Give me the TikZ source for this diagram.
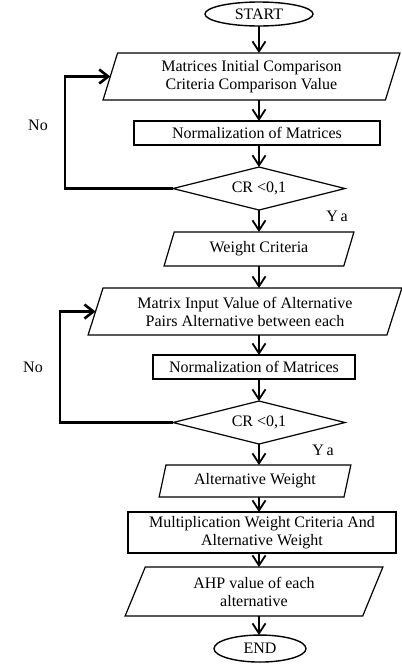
\documentclass[tikz,border=0pt]{standalone}
\usepackage{fontspec}
\setmainfont{Liberation Serif}
\usetikzlibrary{shapes.geometric, arrows.meta, positioning, calc}

\begin{document}
\begin{tikzpicture}[
    x=1pt, y=1pt,
    node distance=22pt,
    every node/.style={font=\fontsize{16}{18}\selectfont},
    terminal/.style={ellipse, draw, line width=1.4pt, inner sep=0pt, outer sep=0pt},
    inout/.style={trapezium, trapezium left angle=74, trapezium right angle=106, trapezium stretches=true, draw, line width=1.2pt, align=center, inner sep=1pt, outer sep=0pt},
    wideslant/.style={trapezium left angle=70, trapezium right angle=110},
    process/.style={rectangle, draw, line width=1.8pt, align=center, inner sep=1pt, outer sep=0pt},
    decision/.style={diamond, aspect=4, draw, line width=1.2pt, inner sep=0pt, outer sep=0pt, minimum width=172pt, minimum height=43pt},
    arrow/.style={-{Straight Barb[length=10pt,width=13pt]}, line width=1.8pt},
    backline/.style={-{Straight Barb[length=9pt,width=14pt]}, line width=2.6pt}
]
\useasboundingbox (0,0) rectangle (402,-670);

\node[terminal, minimum width=108pt, minimum height=24pt] (start) at (259,-14) {START};
\node[inout, below=27pt of start, xshift=-7.5pt, minimum width=297pt, minimum height=47pt] (critin) {Matrices Initial Comparison\\Criteria Comparison Value};
\node[process, below=21pt of critin, xshift=5.5pt, minimum width=246pt, minimum height=24pt] (norm1) {Normalization of Matrices};
\node[decision, below=22pt of norm1, xshift=2pt] (dec1) {CR <0,1};
\node[inout, wideslant, below=22pt of dec1, minimum width=190pt, minimum height=34pt] (wcrit) {Weight Criteria};
\node[inout, wideslant, below=22pt of wcrit, xshift=-14pt, minimum width=314pt, minimum height=47pt] (altin) {Matrix Input Value of Alternative\\Pairs Alternative between each};
\node[process, below=20pt of altin, xshift=9pt, minimum width=202pt, minimum height=24pt] (norm2) {Normalization of Matrices};
\node[decision, below=22pt of norm2, xshift=5pt] (dec2) {CR <0,1};
\node[inout, below=21pt of dec2, xshift=-4pt, minimum width=192pt, minimum height=32pt] (altw) {Alternative Weight};
\node[process, below=15pt of altw, xshift=7pt, minimum width=268pt, minimum height=41pt] (mult) {Multiplication Weight Criteria And\\Alternative Weight};
\node[inout, wideslant, below=14pt of mult, xshift=-8pt, minimum width=258pt, minimum height=49pt] (ahp) {AHP value of each\\alternative};
\node[terminal, below=19pt of ahp, xshift=6pt, minimum width=92pt, minimum height=27pt] (end) {END};

\coordinate (loopA) at (65,0);
\coordinate (loopB) at (60,0);
\node (no1) at (38,-125) {No};
\node (no2) at (33,-367) {No};
\node (ya1) at (337,-216) {Y\,a};
\node (ya2) at (323,-450) {Y\,a};

\draw[arrow] (start) -- (start |- critin.north);
\draw[arrow] (start |- critin.south) -- (start |- norm1.north);
\draw[arrow] (start |- norm1.south) -- (start |- dec1.north);
\draw[arrow] (start |- dec1.south) -- (start |- wcrit.north);
\draw[arrow] (start |- wcrit.south) -- (start |- altin.north);
\draw[arrow] (start |- altin.south) -- (start |- norm2.north);
\draw[arrow] (start |- norm2.south) -- (start |- dec2.north);
\draw[arrow] (start |- dec2.south) -- (start |- altw.north);
\draw[arrow] (start |- altw.south) -- (start |- mult.north);
\draw[arrow] (start |- mult.south) -- (start |- ahp.north);
\draw[arrow] (start |- ahp.south) -- (start |- end.north);

\draw[backline] (dec1.west) -- (dec1.west -| loopA) |- (critin.west);
\draw[backline] (dec2.west) -- (dec2.west -| loopB) |- (altin.west);

\end{tikzpicture}
\end{document}
